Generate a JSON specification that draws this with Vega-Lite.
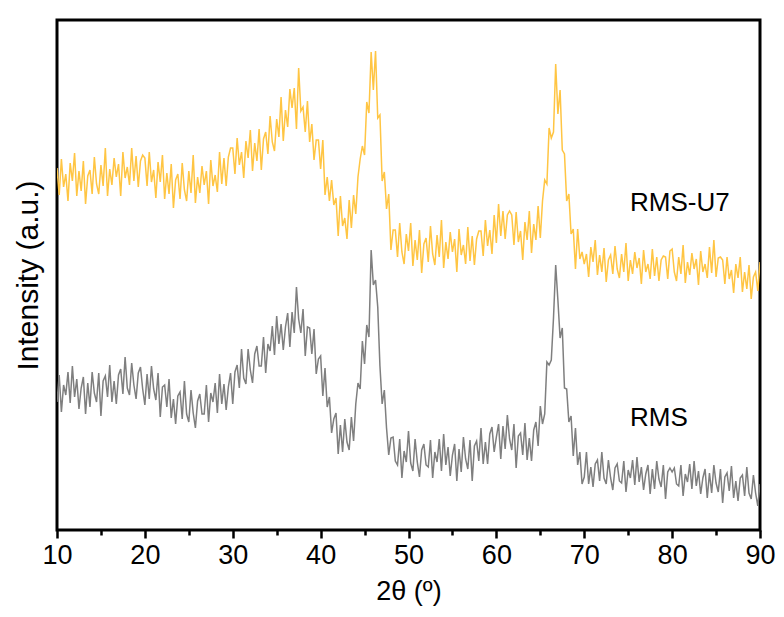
{
"$schema": "https://vega.github.io/schema/vega-lite/v6.json",
"width": 703, "height": 510,
"autosize": {"type": "none"},
"padding": {"left": 57, "top": 20, "right": 24, "bottom": 87},
"background": "white",
"config": {"view": {"stroke": "black", "strokeWidth": 3}, "font": "Liberation Sans"},
"datasets": {
"labels": [{"x": 75.2, "y": 327, "t": "RMS-U7"}, {"x": 75.2, "y": 112, "t": "RMS"}],
"xrd": [
{"x":10,"u":362,"r":128},{"x":10.25,"u":335,"r":155},{"x":10.5,"u":371,"r":118},{"x":10.75,"u":343,"r":145},
{"x":11,"u":356,"r":135},{"x":11.25,"u":329,"r":158},{"x":11.5,"u":367,"r":127},{"x":11.75,"u":349,"r":164},
{"x":12,"u":377,"r":133},{"x":12.25,"u":334,"r":151},{"x":12.5,"u":359,"r":121},{"x":12.75,"u":339,"r":142},
{"x":13,"u":369,"r":153},{"x":13.25,"u":326,"r":116},{"x":13.5,"u":354,"r":147},{"x":13.75,"u":360,"r":123},
{"x":14,"u":336,"r":158},{"x":14.25,"u":373,"r":137},{"x":14.5,"u":346,"r":128},{"x":14.75,"u":336,"r":157},
{"x":15,"u":365,"r":114},{"x":15.25,"u":344,"r":149},{"x":15.5,"u":382,"r":154},{"x":15.75,"u":334,"r":133},
{"x":16,"u":361,"r":165},{"x":16.25,"u":345,"r":128},{"x":16.5,"u":372,"r":149},{"x":16.75,"u":353,"r":126},
{"x":17,"u":366,"r":155},{"x":17.25,"u":334,"r":161},{"x":17.5,"u":378,"r":136},{"x":17.75,"u":352,"r":173},
{"x":18,"u":363,"r":142},{"x":18.25,"u":345,"r":135},{"x":18.5,"u":382,"r":167},{"x":18.75,"u":349,"r":145},
{"x":19,"u":374,"r":131},{"x":19.25,"u":343,"r":157},{"x":19.5,"u":369,"r":163},{"x":19.75,"u":375,"r":141},
{"x":20,"u":372,"r":125},{"x":20.25,"u":344,"r":156},{"x":20.5,"u":378,"r":131},{"x":20.75,"u":348,"r":164},
{"x":21,"u":360,"r":141},{"x":21.25,"u":332,"r":130},{"x":21.5,"u":368,"r":157},{"x":21.75,"u":348,"r":113},
{"x":22,"u":375,"r":143},{"x":22.25,"u":331,"r":145},{"x":22.5,"u":357,"r":123},{"x":22.75,"u":336,"r":151},
{"x":23,"u":366,"r":112},{"x":23.25,"u":322,"r":131},{"x":23.5,"u":350,"r":106},{"x":23.75,"u":356,"r":134},
{"x":24,"u":331,"r":138},{"x":24.25,"u":367,"r":111},{"x":24.5,"u":340,"r":149},{"x":24.75,"u":329,"r":116},
{"x":25,"u":359,"r":108},{"x":25.25,"u":337,"r":140},{"x":25.5,"u":375,"r":117},{"x":25.75,"u":327,"r":102},
{"x":26,"u":353,"r":129},{"x":26.25,"u":337,"r":136},{"x":26.5,"u":364,"r":116},{"x":26.75,"u":345,"r":116},
{"x":27,"u":359,"r":145},{"x":27.25,"u":326,"r":108},{"x":27.5,"u":370,"r":137},{"x":27.75,"u":344,"r":128},
{"x":28,"u":355,"r":147},{"x":28.25,"u":338,"r":117},{"x":28.5,"u":378,"r":156},{"x":28.75,"u":346,"r":126},
{"x":29,"u":372,"r":146},{"x":29.25,"u":344,"r":120},{"x":29.5,"u":373,"r":143},{"x":29.75,"u":382,"r":157},
{"x":30,"u":382,"r":126},{"x":30.25,"u":356,"r":158},{"x":30.5,"u":392,"r":165},{"x":30.75,"u":365,"r":142},
{"x":31,"u":378,"r":181},{"x":31.25,"u":352,"r":152},{"x":31.5,"u":389,"r":146},{"x":31.75,"u":372,"r":181},
{"x":32,"u":400,"r":160},{"x":32.25,"u":359,"r":147},{"x":32.5,"u":387,"r":176},{"x":32.75,"u":369,"r":184},
{"x":33,"u":401,"r":164},{"x":33.25,"u":360,"r":164},{"x":33.5,"u":391,"r":193},{"x":33.75,"u":398,"r":157},
{"x":34,"u":376,"r":186},{"x":34.25,"u":414,"r":179},{"x":34.5,"u":388,"r":204},{"x":34.75,"u":379,"r":175},
{"x":35,"u":411,"r":214},{"x":35.25,"u":393,"r":186},{"x":35.5,"u":433,"r":206},{"x":35.75,"u":389,"r":180},
{"x":36,"u":420,"r":203},{"x":36.25,"u":403,"r":217},{"x":36.5,"u":441,"r":183},{"x":36.75,"u":422,"r":218},
{"x":37,"u":442,"r":197},{"x":37.25,"u":401,"r":243},{"x":37.5,"u":462,"r":211},{"x":37.75,"u":419,"r":197},
{"x":38,"u":423,"r":221},{"x":38.25,"u":398,"r":174},{"x":38.5,"u":429,"r":203},{"x":38.75,"u":388,"r":202},
{"x":39,"u":406,"r":176},{"x":39.25,"u":370,"r":201},{"x":39.5,"u":390,"r":156},{"x":39.75,"u":390,"r":171},
{"x":40,"u":361,"r":174},{"x":40.25,"u":390,"r":134},{"x":40.5,"u":335,"r":162},{"x":40.75,"u":353,"r":123},
{"x":41,"u":329,"r":133},{"x":41.25,"u":350,"r":97},{"x":41.5,"u":325,"r":111},{"x":41.75,"u":332,"r":117},
{"x":42,"u":294,"r":76},{"x":42.25,"u":334,"r":105},{"x":42.5,"u":304,"r":78},{"x":42.75,"u":312,"r":111},
{"x":43,"u":291,"r":88},{"x":43.25,"u":330,"r":80},{"x":43.5,"u":302,"r":113},{"x":43.75,"u":335,"r":89},
{"x":44,"u":316,"r":126},{"x":44.25,"u":353,"r":147},{"x":44.5,"u":371,"r":141},{"x":44.75,"u":384,"r":189},
{"x":45,"u":375,"r":166},{"x":45.25,"u":428,"r":205},{"x":45.5,"u":417,"r":193},{"x":45.75,"u":478,"r":280},
{"x":46,"u":440,"r":245},{"x":46.25,"u":479,"r":250},{"x":46.5,"u":412,"r":223},{"x":46.75,"u":415,"r":164},
{"x":47,"u":349,"r":126},{"x":47.25,"u":358,"r":140},{"x":47.5,"u":321,"r":102},{"x":47.75,"u":336,"r":75},
{"x":48,"u":280,"r":92},{"x":48.25,"u":300,"r":93},{"x":48.5,"u":300,"r":69},{"x":48.75,"u":273,"r":65},
{"x":49,"u":307,"r":91},{"x":49.25,"u":278,"r":52},{"x":49.5,"u":266,"r":79},{"x":49.75,"u":296,"r":68},
{"x":50,"u":279,"r":99},{"x":50.25,"u":307,"r":67},{"x":50.5,"u":264,"r":59},{"x":50.75,"u":290,"r":91},
{"x":51,"u":270,"r":68},{"x":51.25,"u":300,"r":53},{"x":51.5,"u":257,"r":80},{"x":51.75,"u":286,"r":86},
{"x":52,"u":292,"r":65},{"x":52.25,"u":268,"r":63},{"x":52.5,"u":304,"r":90},{"x":52.75,"u":276,"r":52},
{"x":53,"u":265,"r":78},{"x":53.25,"u":295,"r":68},{"x":53.5,"u":273,"r":91},{"x":53.75,"u":310,"r":59},
{"x":54,"u":262,"r":96},{"x":54.25,"u":288,"r":65},{"x":54.5,"u":271,"r":83},{"x":54.75,"u":298,"r":54},
{"x":55,"u":278,"r":75},{"x":55.25,"u":291,"r":86},{"x":55.5,"u":258,"r":49},{"x":55.75,"u":301,"r":81},
{"x":56,"u":275,"r":58},{"x":56.25,"u":285,"r":93},{"x":56.5,"u":266,"r":71},{"x":56.75,"u":303,"r":61},
{"x":57,"u":269,"r":90},{"x":57.25,"u":294,"r":49},{"x":57.5,"u":265,"r":84},{"x":57.75,"u":291,"r":89},
{"x":58,"u":299,"r":69},{"x":58.25,"u":299,"r":102},{"x":58.5,"u":274,"r":66},{"x":58.75,"u":310,"r":88},
{"x":59,"u":284,"r":66},{"x":59.25,"u":300,"r":96},{"x":59.5,"u":276,"r":103},{"x":59.75,"u":315,"r":78},
{"x":60,"u":287,"r":93},{"x":60.25,"u":326,"r":106},{"x":60.5,"u":294,"r":71},{"x":60.75,"u":319,"r":104},
{"x":61,"u":291,"r":81},{"x":61.25,"u":315,"r":115},{"x":61.5,"u":319,"r":91},{"x":61.75,"u":315,"r":80},
{"x":62,"u":285,"r":106},{"x":62.25,"u":318,"r":62},{"x":62.5,"u":288,"r":94},{"x":62.75,"u":299,"r":97},
{"x":63,"u":270,"r":75},{"x":63.25,"u":308,"r":107},{"x":63.5,"u":290,"r":70},{"x":63.75,"u":319,"r":92},
{"x":64,"u":277,"r":69},{"x":64.25,"u":306,"r":100},{"x":64.5,"u":290,"r":108},{"x":64.75,"u":324,"r":84},
{"x":65,"u":292,"r":124},{"x":65.25,"u":329,"r":106},{"x":65.5,"u":350,"r":116},{"x":65.75,"u":346,"r":168},
{"x":66,"u":402,"r":165},{"x":66.25,"u":392,"r":170},{"x":66.5,"u":398,"r":212},{"x":66.75,"u":466,"r":265},
{"x":67,"u":416,"r":230},{"x":67.25,"u":440,"r":192},{"x":67.5,"u":380,"r":202},{"x":67.75,"u":376,"r":142},
{"x":68,"u":329,"r":141},{"x":68.25,"u":336,"r":108},{"x":68.5,"u":296,"r":114},{"x":68.75,"u":301,"r":74},
{"x":69,"u":261,"r":102},{"x":69.25,"u":301,"r":65},{"x":69.5,"u":271,"r":78},{"x":69.75,"u":278,"r":46},
{"x":70,"u":266,"r":53},{"x":70.25,"u":276,"r":78},{"x":70.5,"u":253,"r":46},{"x":70.75,"u":283,"r":63},
{"x":71,"u":268,"r":43},{"x":71.25,"u":290,"r":66},{"x":71.5,"u":255,"r":70},{"x":71.75,"u":275,"r":49},
{"x":72,"u":258,"r":78},{"x":72.25,"u":282,"r":52},{"x":72.5,"u":248,"r":46},{"x":72.75,"u":270,"r":70},
{"x":73,"u":275,"r":52},{"x":73.25,"u":256,"r":40},{"x":73.5,"u":284,"r":62},{"x":73.75,"u":261,"r":66},
{"x":74,"u":252,"r":49},{"x":74.25,"u":276,"r":47},{"x":74.5,"u":258,"r":69},{"x":74.75,"u":287,"r":38},
{"x":75,"u":249,"r":60},{"x":75.25,"u":270,"r":52},{"x":75.5,"u":256,"r":70},{"x":75.75,"u":278,"r":45},
{"x":76,"u":262,"r":73},{"x":76.25,"u":272,"r":48},{"x":76.5,"u":246,"r":63},{"x":76.75,"u":280,"r":40},
{"x":77,"u":258,"r":56},{"x":77.25,"u":266,"r":65},{"x":77.5,"u":251,"r":36},{"x":77.75,"u":281,"r":61},
{"x":78,"u":254,"r":41},{"x":78.25,"u":273,"r":69},{"x":78.5,"u":249,"r":51},{"x":78.75,"u":270,"r":43},
{"x":79,"u":274,"r":65},{"x":79.25,"u":273,"r":31},{"x":79.5,"u":251,"r":58},{"x":79.75,"u":279,"r":62},
{"x":80,"u":281,"r":58},{"x":80.25,"u":258,"r":62},{"x":80.5,"u":249,"r":46},{"x":80.75,"u":273,"r":44},
{"x":81,"u":256,"r":65},{"x":81.25,"u":285,"r":34},{"x":81.5,"u":247,"r":56},{"x":81.75,"u":268,"r":48},
{"x":82,"u":255,"r":66},{"x":82.25,"u":277,"r":41},{"x":82.5,"u":261,"r":69},{"x":82.75,"u":271,"r":44},
{"x":83,"u":245,"r":59},{"x":83.25,"u":279,"r":36},{"x":83.5,"u":258,"r":52},{"x":83.75,"u":266,"r":61},
{"x":84,"u":252,"r":32},{"x":84.25,"u":283,"r":57},{"x":84.5,"u":257,"r":37},{"x":84.75,"u":290,"r":65},
{"x":85,"u":253,"r":47},{"x":85.25,"u":272,"r":38},{"x":85.5,"u":273,"r":61},{"x":85.75,"u":270,"r":27},
{"x":86,"u":246,"r":53},{"x":86.25,"u":273,"r":57},{"x":86.5,"u":251,"r":39},{"x":86.75,"u":260,"r":64},
{"x":87,"u":237,"r":32},{"x":87.25,"u":266,"r":49},{"x":87.5,"u":252,"r":29},{"x":87.75,"u":273,"r":52},
{"x":88,"u":238,"r":55},{"x":88.25,"u":258,"r":34},{"x":88.5,"u":241,"r":63},{"x":88.75,"u":265,"r":37},
{"x":89,"u":231,"r":31},{"x":89.25,"u":253,"r":55},{"x":89.5,"u":258,"r":37},{"x":89.75,"u":239,"r":24},
{"x":90,"u":268,"r":46}
]},
"layer": [
{"data": {"name": "xrd"},
 "transform": [{"fold": ["u", "r"], "as": ["series", "intensity"]}],
 "mark": {"type": "line", "strokeWidth": 1.5, "clip": true},
 "encoding": {
  "x": {"field": "x", "type": "quantitative", "scale": {"domain": [10, 90], "nice": false},
   "axis": {"values": [10,15,20,25,30,35,40,45,50,55,60,65,70,75,80,85,90],
    "labelExpr": "datum.value % 10 === 0 ? datum.label : ''",
    "tickSize": {"condition": {"test": "datum.value % 10 === 0", "value": 8}, "value": 5},
    "tickWidth": 2.5, "tickColor": "black", "domain": false, "grid": false,
    "labelFontSize": 27, "labelColor": "black", "labelPadding": 4, "labelFlush": false,
    "title": "2θ (º)", "titleFontSize": 27, "titleFontWeight": "normal", "titleColor": "black", "titlePadding": 10}},
  "y": {"field": "intensity", "type": "quantitative", "scale": {"domain": [0, 510], "nice": false, "zero": false},
   "axis": {"labels": false, "ticks": false, "domain": false, "grid": false,
    "title": "Intensity (a.u.)", "titleFontSize": 30, "titleFontWeight": "normal", "titleColor": "black", "titlePadding": 14}},
  "color": {"field": "series", "type": "nominal", "scale": {"domain": ["u", "r"], "range": ["#FFC543", "#7F7F7F"]}, "legend": null}
 }},
{"data": {"name": "labels"},
 "mark": {"type": "text", "align": "left", "baseline": "middle", "fontSize": 26, "font": "Liberation Sans", "color": "black"},
 "encoding": {
  "x": {"field": "x", "type": "quantitative"},
  "y": {"field": "y", "type": "quantitative"},
  "text": {"field": "t"}
 }}
]
}
